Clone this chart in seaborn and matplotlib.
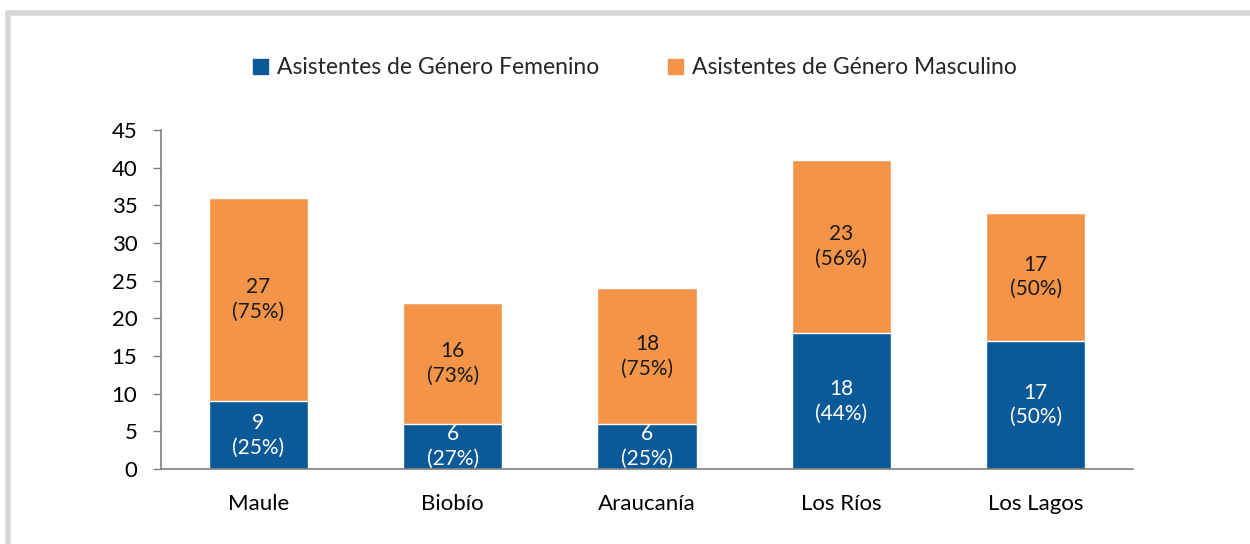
import pandas as pd
import numpy as np
import matplotlib.pyplot as plt
import seaborn as sns
from matplotlib.lines import Line2D
from matplotlib.patches import Patch

sns.set_theme(style="white")
plt.rcParams['font.family'] = ['Lato', 'DejaVu Sans']

# data
regiones = ['Maule', 'Biobío', 'Araucanía', 'Los Ríos', 'Los Lagos']
femenino = [9, 6, 6, 18, 17]
masculino = [27, 16, 18, 23, 17]
pct_fem = ['25%', '27%', '25%', '44%', '50%']
pct_masc = ['75%', '73%', '75%', '56%', '50%']

azul = '#0B5A97'
naranja = '#F39448'

df = pd.DataFrame({'Region': regiones, 'Femenino': femenino, 'Masculino': masculino})
df['Total'] = df['Femenino'] + df['Masculino']

fig = plt.figure(figsize=(12.5, 5.44), dpi=100)
ax = fig.add_axes([0.1288, 0.1379, 0.7776, 0.6231])

# stacked: total in orange, female in blue on top of it
sns.barplot(data=df, x='Region', y='Total', color=naranja, width=0.51,
            saturation=1, ax=ax)
sns.barplot(data=df, x='Region', y='Femenino', color=azul, width=0.51,
            saturation=1, ax=ax)

for i in range(len(regiones)):
    f, m = femenino[i], masculino[i]
    ax.text(i, f / 2, f'{f}\n({pct_fem[i]})', ha='center', va='center',
            color='white', fontsize=15, linespacing=1.3)
    ax.text(i, f + m / 2, f'{m}\n({pct_masc[i]})', ha='center', va='center',
            color='#1a1a1a', fontsize=15, linespacing=1.3)

ax.set_ylim(0, 45)
ax.set_xlim(-0.5, 4.5)
ax.set_yticks(range(0, 46, 5))
ax.set_xlabel('')
ax.set_ylabel('')
ax.tick_params(axis='y', labelsize=16, length=6, width=1, color='#7f7f7f',
               left=True, pad=11, labelcolor='black')
ax.tick_params(axis='x', labelsize=16, length=0, pad=18, labelcolor='black')
for s in ['top', 'right']:
    ax.spines[s].set_visible(False)
for s in ['left', 'bottom']:
    ax.spines[s].set_color('#7f7f7f')
    ax.spines[s].set_linewidth(1.2)

handles = [Patch(color=azul, label='Asistentes de Género Femenino'),
           Patch(color=naranja, label='Asistentes de Género Masculino')]
fig.legend(handles=handles, loc='center', bbox_to_anchor=(0.508, 0.875), ncol=2,
           frameon=False, fontsize=16.5, handlelength=0.65, handleheight=0.65,
           handletextpad=0.4, columnspacing=3.0)

# light gray frame of the screenshot (top and left edges)
fig.add_artist(Line2D([0.0064, 1.0], [0.976, 0.976], color='#D6D6D6', lw=4,
                      transform=fig.transFigure))
fig.add_artist(Line2D([0.0064, 0.0064], [0.0, 0.976], color='#D6D6D6', lw=4,
                      transform=fig.transFigure))

fig.savefig('out.png', dpi=100)
